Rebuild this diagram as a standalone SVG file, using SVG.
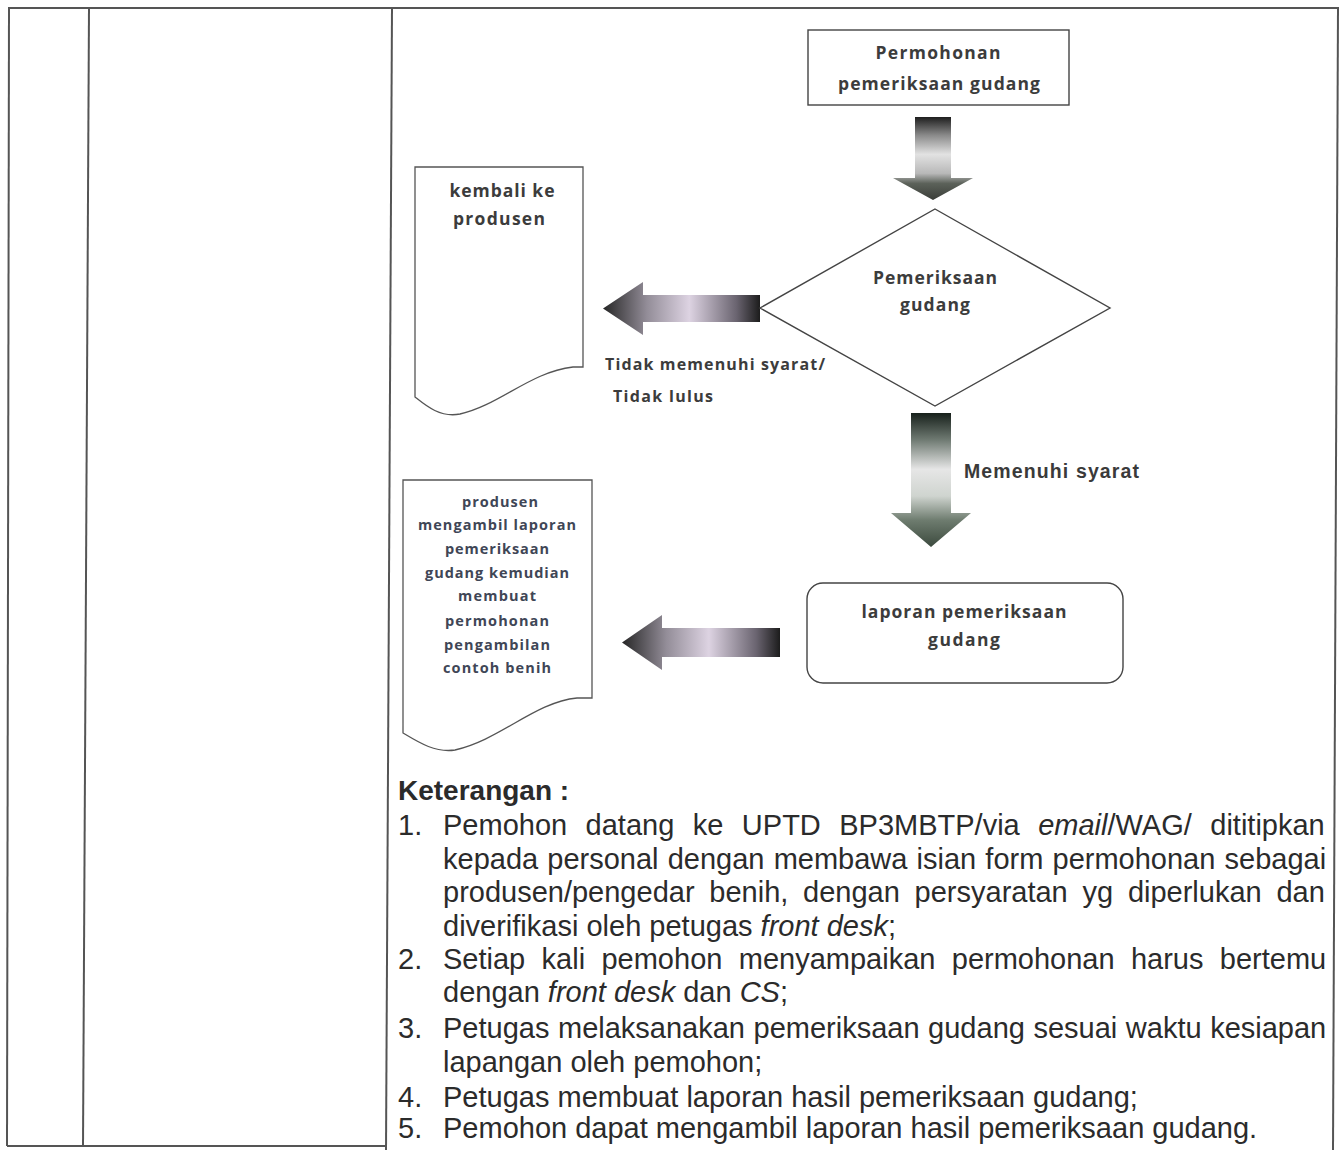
<svg xmlns="http://www.w3.org/2000/svg" width="1342" height="1150" viewBox="0 0 1342 1150">
  <defs>
    <style>
      .grid { stroke: #555; stroke-width: 2; fill: none; }
      .shape { fill: #fff; stroke: #444; stroke-width: 1.4; }
      .doc { fill: #fff; stroke: #555; stroke-width: 1.3; }
      .lbl { font-family: "Open Sans", Lato, sans-serif; font-weight: 700; fill: #3c3c3c; text-anchor: middle; font-size: 17.5px; }
      .lbl-doc { font-family: "Open Sans", Lato, sans-serif; font-weight: 700; fill: #404656; text-anchor: middle; font-size: 14.5px; }
      .edge-lbl { font-family: "Open Sans", Lato, sans-serif; font-weight: 700; fill: #3c3c3c; font-size: 16px; }
      .edge-lbl2 { font-family: "Liberation Sans", Arial, sans-serif; font-weight: 700; fill: #3a3a3a; font-size: 19.5px; }
      .body { font-family: "Liberation Sans", Arial, sans-serif; font-size: 29px; fill: #2b2b2b; }
      .head { font-family: "Liberation Sans", Arial, sans-serif; font-size: 28px; font-weight: 700; fill: #2b2b2b; }
      .it { font-style: italic; }
    </style>
    <!-- block-arrow shading -->
    <linearGradient id="gDown1" x1="0" y1="0" x2="0" y2="1">
      <stop offset="0" stop-color="#1e1e1e"/>
      <stop offset="0.22" stop-color="#8a8a8a"/>
      <stop offset="0.45" stop-color="#e2e2e2"/>
      <stop offset="0.68" stop-color="#b8b8b8"/>
      <stop offset="0.8" stop-color="#5c625a"/>
      <stop offset="1" stop-color="#3a3d38"/>
    </linearGradient>
    <linearGradient id="gDown2" x1="0" y1="0" x2="0" y2="1">
      <stop offset="0" stop-color="#17201b"/>
      <stop offset="0.2" stop-color="#6f7a72"/>
      <stop offset="0.42" stop-color="#e6e6e6"/>
      <stop offset="0.62" stop-color="#cfd4cf"/>
      <stop offset="0.8" stop-color="#6e7c6f"/>
      <stop offset="1" stop-color="#3c4a3e"/>
    </linearGradient>
    <linearGradient id="gLeft" x1="1" y1="0" x2="0" y2="0">
      <stop offset="0" stop-color="#1c1c1c"/>
      <stop offset="0.15" stop-color="#6a6470"/>
      <stop offset="0.45" stop-color="#ddd3e2"/>
      <stop offset="0.72" stop-color="#938d98"/>
      <stop offset="1" stop-color="#262626"/>
    </linearGradient>
  </defs>

  <rect width="1342" height="1150" fill="#fff"/>

  <!-- table frame -->
  <g id="table">
    <line class="grid" x1="8" y1="8" x2="1339" y2="8"/>
    <line class="grid" x1="9" y1="8" x2="7" y2="1146"/>
    <line class="grid" x1="89" y1="8" x2="83" y2="1146"/>
    <line class="grid" x1="392" y1="8" x2="386" y2="1150"/>
    <line class="grid" x1="1338" y1="8" x2="1333" y2="1150"/>
    <line class="grid" x1="7" y1="1146" x2="386" y2="1146"/>
  </g>

  <!-- connectors: shaded block arrows -->
  <g id="connectors">
    <path d="M915,117 H951 V178 H973 L933,200 L893,178 H915 Z" fill="url(#gDown1)"/>
    <path d="M911,413 H951 V513 H971 L931,547 L891,513 H911 Z" fill="url(#gDown2)"/>
    <path d="M760,295 V322 H643 V335 L603,308.5 L643,282 V295 Z" fill="url(#gLeft)"/>
    <path d="M780,628 V657 H662 V670 L622,642.5 L662,615 V628 Z" fill="url(#gLeft)"/>
    <text class="edge-lbl" x="605" y="370" textLength="220" lengthAdjust="spacing">Tidak memenuhi syarat/</text>
    <text class="edge-lbl" x="613" y="402" textLength="100" lengthAdjust="spacing">Tidak lulus</text>
    <text class="edge-lbl2" x="964" y="478" textLength="175" lengthAdjust="spacing">Memenuhi syarat</text>
  </g>

  <g id="node-permohonan">
    <rect class="shape" x="808" y="30" width="261" height="75"/>
    <text class="lbl" x="938" y="59" textLength="125" lengthAdjust="spacing">Permohonan</text>
    <text class="lbl" x="939" y="90" textLength="202" lengthAdjust="spacing">pemeriksaan gudang</text>
  </g>

  <g id="node-pemeriksaan">
    <polygon class="shape" points="935,209 1110,308 935,406 760,308"/>
    <text class="lbl" x="935" y="284" textLength="124" lengthAdjust="spacing">Pemeriksaan</text>
    <text class="lbl" x="935" y="311" textLength="70" lengthAdjust="spacing">gudang</text>
  </g>

  <g id="node-kembali">
    <path class="doc" d="M415,167 H583 V367 H573 C530,372 500,405 460,414 C440,418 425,405 415,397 Z"/>
    <text class="lbl" x="502" y="197" textLength="105" lengthAdjust="spacing">kembali ke</text>
    <text class="lbl" x="499" y="225" textLength="92" lengthAdjust="spacing">produsen</text>
  </g>

  <g id="node-laporan">
    <rect class="shape" x="807" y="583" width="316" height="100" rx="16"/>
    <text class="lbl" x="964" y="618" textLength="205" lengthAdjust="spacing">laporan pemeriksaan</text>
    <text class="lbl" x="964" y="646" textLength="72" lengthAdjust="spacing">gudang</text>
  </g>

  <g id="node-produsen">
    <path class="doc" d="M403,480 H592 V698 H577 C535,702 500,740 455,750 C435,753 418,742 403,733 Z"/>
    <text class="lbl-doc" x="500" y="507" textLength="76" lengthAdjust="spacing">produsen</text>
    <text class="lbl-doc" x="497" y="530" textLength="158" lengthAdjust="spacing">mengambil laporan</text>
    <text class="lbl-doc" x="497" y="554" textLength="104" lengthAdjust="spacing">pemeriksaan</text>
    <text class="lbl-doc" x="497" y="578" textLength="144" lengthAdjust="spacing">gudang kemudian</text>
    <text class="lbl-doc" x="497" y="601" textLength="78" lengthAdjust="spacing">membuat</text>
    <text class="lbl-doc" x="497" y="626" textLength="104" lengthAdjust="spacing">permohonan</text>
    <text class="lbl-doc" x="497" y="650" textLength="106" lengthAdjust="spacing">pengambilan</text>
    <text class="lbl-doc" x="497" y="673" textLength="108" lengthAdjust="spacing">contoh benih</text>
  </g>

  <!-- notes -->
  <g id="keterangan">
    <text class="head" x="398" y="800">Keterangan :</text>
    <text class="body" x="398" y="835">1.</text>
    <text class="body" x="443" y="835" word-spacing="10.4">Pemohon datang ke UPTD BP3MBTP/via <tspan class="it">email</tspan>/WAG/ dititipkan</text>
    <text class="body" x="443" y="869" word-spacing="1.1">kepada personal dengan membawa isian form permohonan sebagai</text>
    <text class="body" x="443" y="902" word-spacing="6.7">produsen/pengedar benih, dengan persyaratan yg diperlukan dan</text>
    <text class="body" x="443" y="936">diverifikasi oleh petugas <tspan class="it">front desk</tspan>;</text>
    <text class="body" x="398" y="969">2.</text>
    <text class="body" x="443" y="969" word-spacing="8.3">Setiap kali pemohon menyampaikan permohonan harus bertemu</text>
    <text class="body" x="443" y="1002">dengan <tspan class="it">front desk</tspan> dan <tspan class="it">CS</tspan>;</text>
    <text class="body" x="398" y="1038">3.</text>
    <text class="body" x="443" y="1038" word-spacing="0.5">Petugas melaksanakan pemeriksaan gudang sesuai waktu kesiapan</text>
    <text class="body" x="443" y="1072">lapangan oleh pemohon;</text>
    <text class="body" x="398" y="1107">4.</text>
    <text class="body" x="443" y="1107">Petugas membuat laporan hasil pemeriksaan gudang;</text>
    <text class="body" x="398" y="1138">5.</text>
    <text class="body" x="443" y="1138">Pemohon dapat mengambil laporan hasil pemeriksaan gudang.</text>
  </g>
</svg>
